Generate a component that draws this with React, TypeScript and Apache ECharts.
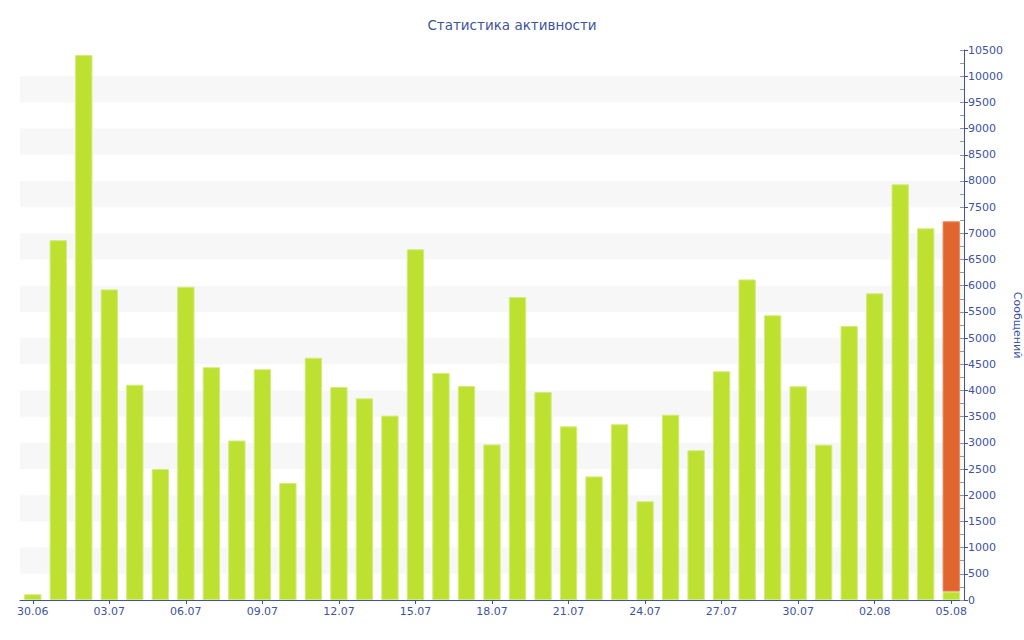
import React, { useEffect, useRef } from "react";
import * as echarts from "echarts";

const titleText = "Статистика активности";
const yAxisName = "Сообщений";

const categories = [
  "30.06", "01.07", "02.07", "03.07", "04.07", "05.07", "06.07", "07.07", "08.07", "09.07",
  "10.07", "11.07", "12.07", "13.07", "14.07", "15.07", "16.07", "17.07", "18.07", "19.07",
  "20.07", "21.07", "22.07", "23.07", "24.07", "25.07", "26.07", "27.07", "28.07", "29.07",
  "30.07", "31.07", "01.08", "02.08", "03.08", "04.08", "05.08",
];

const messages = [
  110, 6870, 10405, 5930, 4110, 2500, 5980, 4445, 3045, 4405,
  2235, 4625, 4066, 3850, 3520, 6695, 4335, 4085, 2970, 5785,
  3970, 3315, 2360, 3355, 1885, 3538, 2858, 4366, 6120, 5435,
  4080, 2965, 5231, 5855, 7936, 7096, 160,
];

// today's remainder (orange), stacked on the last green value
const todayExtra = [
  null, null, null, null, null, null, null, null, null, null,
  null, null, null, null, null, null, null, null, null, null,
  null, null, null, null, null, null, null, null, null, null,
  null, null, null, null, null, null, 7070,
];

const Y_MIN = 0;
const Y_MAX = 10500;
const Y_STEP = 500;

const BLUE = "#4053a0";
const FONT = "DejaVu Sans";

export default function App() {
  const ref = useRef<HTMLDivElement>(null);

  useEffect(() => {
    if (!ref.current) return;
    const chart = echarts.init(ref.current, undefined, { renderer: "svg" });
    chart.setOption({
      animation: false,
      backgroundColor: "#ffffff",
      textStyle: { fontFamily: FONT },
      title: {
        text: titleText,
        left: "center",
        top: 13,
        textStyle: { color: BLUE, fontSize: 13.5, fontWeight: "normal", fontFamily: FONT },
      },
      grid: { left: 20, right: 60, top: 50, bottom: 40, containLabel: false, outerBoundsMode: "none" },
      xAxis: {
        type: "category",
        data: categories,
        boundaryGap: true,
        axisLine: { show: true, lineStyle: { color: BLUE, width: 1 } },
        axisTick: { show: true, interval: 2, alignWithLabel: true, length: 4, lineStyle: { color: BLUE } },
        axisLabel: { interval: 2, color: BLUE, fontSize: 11, fontFamily: FONT, margin: 6 },
        splitLine: { show: false },
      },
      yAxis: [
        {
          type: "value",
          position: "right",
          min: Y_MIN,
          max: Y_MAX,
          interval: Y_STEP,
          name: yAxisName,
          nameLocation: "middle",
          nameRotate: -90,
          nameGap: 48,
          nameMoveOverlap: false,
          nameTextStyle: { color: BLUE, fontSize: 11, fontFamily: FONT },
          axisLine: { show: true, lineStyle: { color: BLUE, width: 1 } },
          axisTick: { show: true, inside: false, length: 4, lineStyle: { color: BLUE } },
          axisLabel: { color: BLUE, fontSize: 11, fontFamily: FONT, margin: 4, formatter: (v: number) => String(v) },
          splitLine: { show: false },
          splitArea: { show: true, areaStyle: { color: ["rgba(255,255,255,0)", "#f7f7f7"] } },
        },
        {
          type: "value",
          position: "right",
          min: Y_MIN,
          max: Y_MAX,
          interval: Y_STEP,
          axisLine: { show: false },
          axisTick: { show: true, inside: true, length: 4, lineStyle: { color: "#8a93b8" } },
          minorTick: { show: true, splitNumber: 2, length: 4, lineStyle: { color: "#9a9a9a" } },
          axisLabel: { show: false },
          splitLine: { show: false },
          splitArea: { show: false },
        },
      ],
      series: [
        {
          type: "bar",
          data: messages,
          stack: "total",
          barCategoryGap: "32%",
          itemStyle: { color: "#bde031", borderColor: "#d3ec7c", borderWidth: 1 },
        },
        {
          type: "bar",
          data: todayExtra,
          stack: "total",
          barCategoryGap: "32%",
          itemStyle: { color: "#e0652e", borderColor: "#e88a5e", borderWidth: 1 },
        },
      ],
    });
    return () => chart.dispose();
  }, []);

  return <div ref={ref} style={{ position: "fixed", left: 0, top: 0, width: 1024, height: 640 }} />;
}
